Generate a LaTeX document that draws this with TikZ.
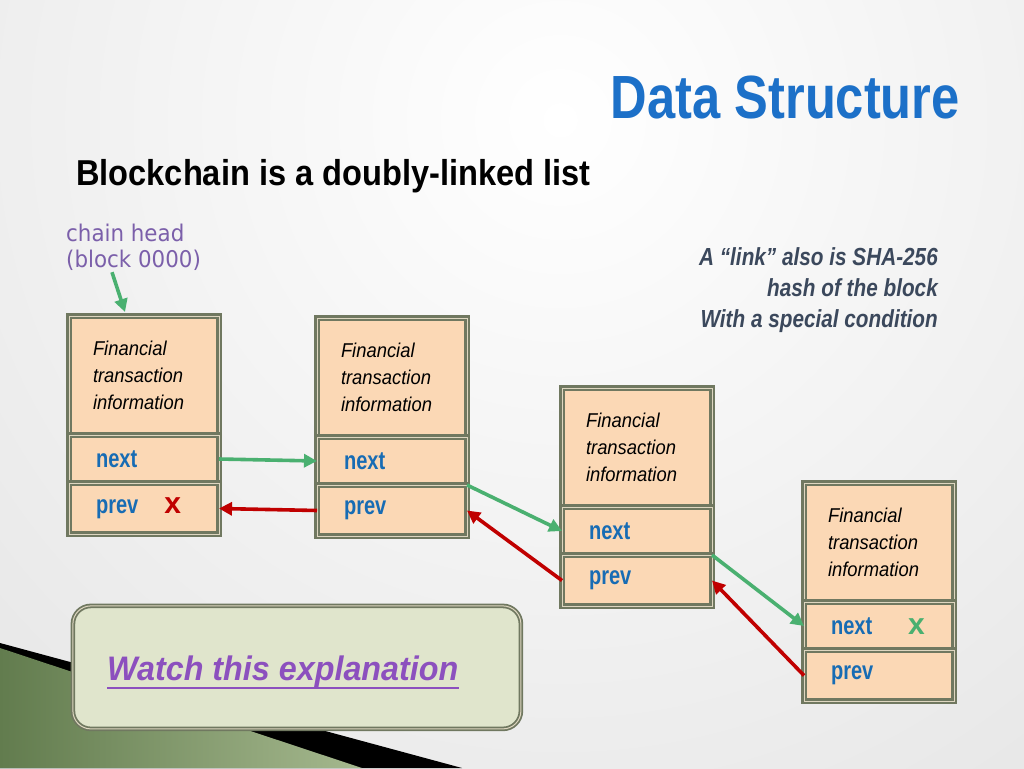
\documentclass[tikz,border=0pt]{standalone}
\usepackage{fontspec}
\setmainfont{Liberation Sans}
\newfontfamily\titlefont[FakeStretch=0.83]{Liberation Sans}
\newfontfamily\headfont[FakeStretch=0.905]{Liberation Sans}
\newfontfamily\bodyfont[FakeStretch=0.92]{Liberation Sans}
\newfontfamily\slotfont[FakeStretch=0.78]{Liberation Sans}
\newfontfamily\notefont[FakeStretch=0.84]{Liberation Sans}
\newfontfamily\watchfont[FakeStretch=0.95]{Liberation Sans}
\newfontfamily\chainfont[FakeStretch=0.93]{DejaVu Sans}
\usetikzlibrary{positioning,arrows.meta}
\definecolor{bggray}{RGB}{214,214,214}
\definecolor{peach}{RGB}{251,216,181}
\definecolor{framecol}{RGB}{112,120,96}
\definecolor{framelight}{RGB}{222,214,192}
\definecolor{slotblue}{RGB}{23,108,180}
\definecolor{linkgreen}{RGB}{74,176,112}
\definecolor{linkred}{RGB}{192,0,0}
\definecolor{headpurple}{RGB}{123,95,170}
\definecolor{watchpurple}{RGB}{140,80,190}
\definecolor{boxfill}{RGB}{224,229,204}
\definecolor{notecol}{RGB}{59,72,92}
\definecolor{titleblue}{RGB}{28,112,200}
\definecolor{leafdark}{RGB}{98,124,78}
\definecolor{leaflight}{RGB}{165,184,142}
\tikzset{
  cell/.style={draw=framecol, line width=2.2pt, double=framelight, double distance=1pt,
    fill=peach, outer sep=0pt, align=left},
  info/.style={cell, anchor=north west, minimum height=119pt, inner xsep=24pt, text width=102pt,
    font=\bodyfont\itshape\fontsize{20}{27}\selectfont},
  slot/.style={cell, inner xsep=27pt, text width=96pt, text=slotblue,
    font=\slotfont\bfseries\fontsize{25.7}{26}\selectfont},
  nextslot/.style={slot, minimum height=48pt},
  prevslot/.style={slot, minimum height=51pt},
  link/.style={line width=3.6pt, ->},
  greenlink/.style={link, draw=linkgreen},
  redlink/.style={link, draw=linkred},
  watchbox/.style={draw=framecol, line width=1.8pt, double=framelight, double distance=1pt,
    fill=boxfill, rounded corners=18pt, anchor=north west, minimum width=448pt, minimum height=123pt}
}
\newcommand{\cross}[1]{{\normalfont\bfseries\fontsize{30}{30}\selectfont\color{#1}x}}
\begin{document}
\begin{tikzpicture}[x=1pt,y=-1pt,>={Triangle[length=13pt,width=13pt]}]
  \useasboundingbox (0,0) rectangle (1024,768);
  \fill[bggray] (0,0) rectangle (1024,768);
  \shade[inner color=white, outer color=bggray] (560,120) circle (1400);
  \fill[black] (0,643) -- (462,768) -- (0,768) -- cycle;
  \shade[left color=leafdark, right color=leaflight] (0,648) -- (362,768) -- (0,768) -- cycle;

  \node[anchor=base east, inner sep=0pt, text=titleblue,
    font=\titlefont\bfseries\fontsize{61}{61}\selectfont] (title) at (960,118) {Data Structure};
  \node[anchor=base west, inner sep=0pt,
    font=\headfont\bfseries\fontsize{36}{36}\selectfont] (heading) at (76,185) {Blockchain is a doubly-linked list};
  \node[anchor=base west, inner sep=0pt, align=left, text=headpurple,
    font=\chainfont\fontsize{23}{26}\selectfont] (chainhead) at (66,267) {chain head\\(block 0000)};
  \node[anchor=base east, inner sep=0pt, align=right, text=notecol,
    font=\notefont\bfseries\itshape\fontsize{24.7}{31}\selectfont] (linknote) at (938,327)
    {A “link” also is SHA-256\\hash of the block\\With a special condition};

  \node[info] (info1) at (69,316) {Financial\\transaction\\information};
  \node[nextslot, below=0pt of info1] (next1) {next};
  \node[prevslot, below=0pt of next1] (prev1) {prev\hspace{26pt}\cross{linkred}};

  \node[info] (info2) at (317,318) {Financial\\transaction\\information};
  \node[nextslot, below=0pt of info2] (next2) {next};
  \node[prevslot, below=0pt of next2] (prev2) {prev};

  \node[info] (info3) at (562,388) {Financial\\transaction\\information};
  \node[nextslot, below=0pt of info3] (next3) {next};
  \node[prevslot, below=0pt of next3] (prev3) {prev};

  \node[info] (info4) at (804,483) {Financial\\transaction\\information};
  \node[nextslot, below=0pt of info4] (next4) {next\hspace{36pt}\cross{linkgreen}};
  \node[prevslot, below=0pt of next4] (prev4) {prev};

  \draw[greenlink] ([xshift=46pt,yshift=-2pt]chainhead.south west) -- ([xshift=-19pt,yshift=4pt]info1.north);
  \draw[greenlink] (next1.east) -- (next2.west);
  \draw[redlink] (prev2.west) -- (prev1.east);
  \draw[greenlink] (next2.south east) -- (next3.west);
  \draw[redlink] (prev3.west) -- (prev2.east);
  \draw[greenlink] (next3.south east) -- (next4.west);
  \draw[redlink] (prev4.west) -- (prev3.east);

  \node[watchbox] (watch) at (72,605) {};
  \node[anchor=base west, inner sep=0pt, text=watchpurple,
    font=\watchfont\bfseries\itshape\fontsize{34}{34}\selectfont] (watchtext) at (107,680) {Watch this explanation};
  \draw[watchpurple, line width=2.8pt] ([yshift=-8pt]watchtext.base west) -- ([yshift=-8pt]watchtext.base east);
\end{tikzpicture}
\end{document}
